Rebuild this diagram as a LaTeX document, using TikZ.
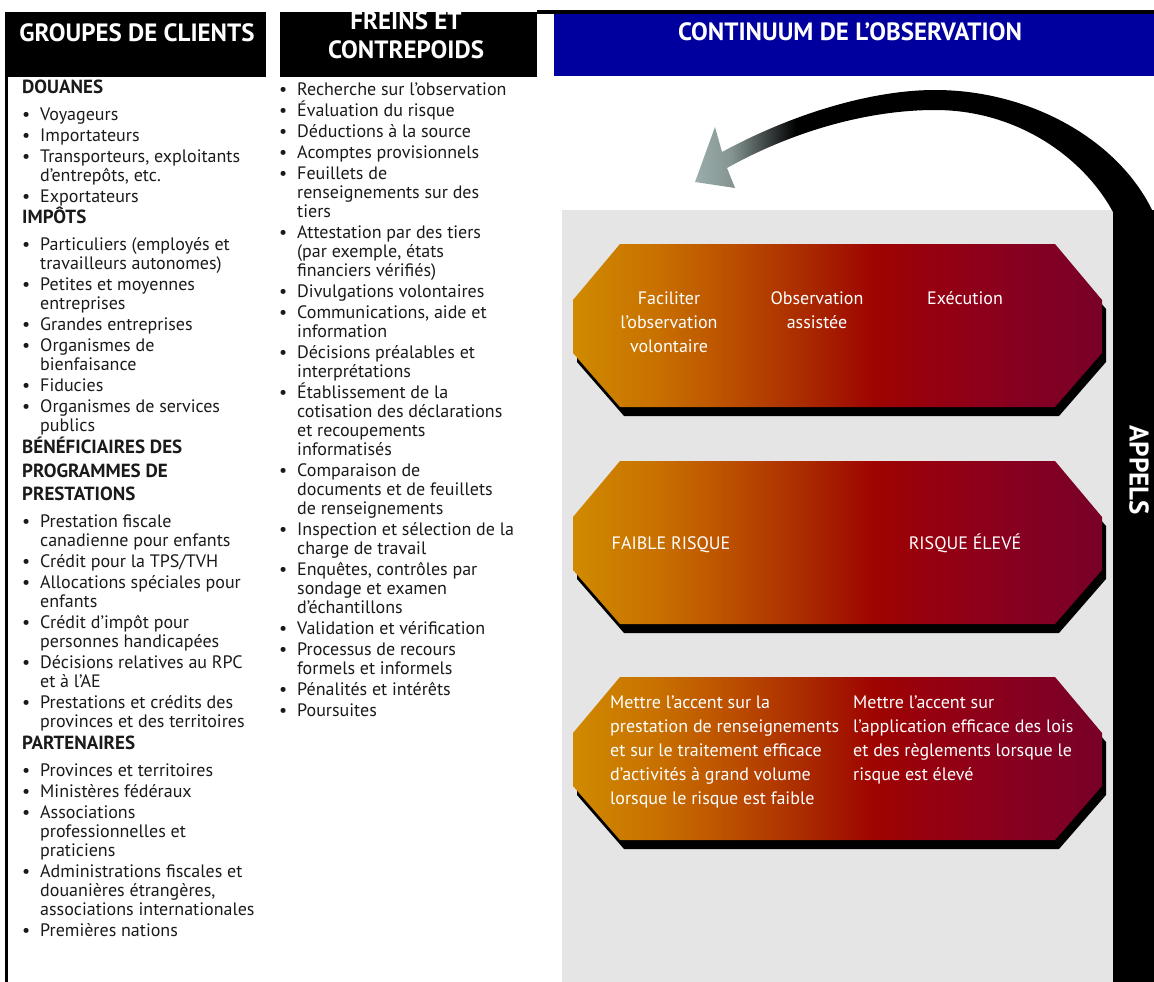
\documentclass[tikz,border=0pt]{standalone}
\usepackage{fontspec}
\setmainfont{PT Sans}
\usepackage{tikz}
\definecolor{blc}{HTML}{00009E}
\definecolor{pnc}{HTML}{E5E5E5}
\definecolor{agc}{HTML}{9BAEAB}
\definecolor{txc}{HTML}{1A1A1A}
\definecolor{og1}{HTML}{D08A00}
\definecolor{og2}{HTML}{C87000}
\definecolor{og3}{HTML}{BA4C00}
\definecolor{og4}{HTML}{A82400}
\definecolor{og5}{HTML}{9E0400}
\definecolor{og6}{HTML}{960010}
\definecolor{og7}{HTML}{880020}
\definecolor{og8}{HTML}{780028}
\pgfdeclarehorizontalshading{octfade}{100bp}{color(0bp)=(og1); color(25bp)=(og1);
  color(33bp)=(og2); color(40.5bp)=(og3); color(48bp)=(og4); color(53.5bp)=(og5);
  color(59bp)=(og6); color(66.5bp)=(og7); color(75bp)=(og8); color(100bp)=(og8)}
\pgfdeclarehorizontalshading{arrowfade}{100bp}{color(0bp)=(agc); color(25bp)=(agc);
  color(29bp)=(agc!85!black); color(36bp)=(black); color(100bp)=(black)}
\newcommand\puce[1]{\makebox[18pt][l]{\textbullet}#1}
\newcommand\suite[1]{\hspace*{18pt}#1}
\newcommand\titre[1]{{\fontsize{19}{19}\selectfont\bfseries #1}}
\newcommand\serre{\lineskiplimit=-20pt\relax}

\begin{document}
\begin{tikzpicture}[x=1pt, y=-1pt,
    headtxt/.style={text=white, font=\fontsize{25}{29}\selectfont\bfseries, align=center, inner sep=0},
    liste/.style={text=txc, font=\fontsize{18}{19}\selectfont\serre, align=left, inner sep=0, anchor=north west},
    octtxt/.style={text=white, font=\fontsize{18}{24}\selectfont, inner sep=0}]
  \useasboundingbox (0,0) rectangle (1154,982);

  \fill (5,12) rectangle (266,77);
  \fill (280,12) rectangle (537,77);
  \fill (537,10) rectangle (1154,14);
  \fill[blc] (554,14) rectangle (1154,76);
  \fill (5,12) rectangle (8,982);
  \node[headtxt] (groupes) at (137,33) {GROUPES DE CLIENTS};
  \node[headtxt] (freins) at (406,35) {FREINS ET\\CONTREPOIDS};
  \node[headtxt] (continuum) at (850,32) {CONTINUUM DE L’OBSERVATION};

  \node[liste] (clients) at (22,80) {%
    \titre{DOUANES}\\[8pt]
    \puce{Voyageurs}\\[2pt]
    \puce{Importateurs}\\[2pt]
    \puce{Transporteurs, exploitants}\\
    \suite{d’entrepôts, etc.}\\[2pt]
    \puce{Exportateurs}\\[2pt]
    \titre{IMPÔTS}\\[8pt]
    \puce{Particuliers (employés et}\\
    \suite{travailleurs autonomes)}\\[2pt]
    \puce{Petites et moyennes}\\
    \suite{entreprises}\\[2pt]
    \puce{Grandes entreprises}\\[2pt]
    \puce{Organismes de}\\
    \suite{bienfaisance}\\[2pt]
    \puce{Fiducies}\\[2pt]
    \puce{Organismes de services}\\
    \suite{publics}\\[3pt]
    \titre{BÉNÉFICIAIRES DES}\\[4.5pt]
    \titre{PROGRAMMES DE}\\[4.5pt]
    \titre{PRESTATIONS}\\[8pt]
    \puce{Prestation fiscale}\\
    \suite{canadienne pour enfants}\\[2pt]
    \puce{Crédit pour la TPS/TVH}\\[2pt]
    \puce{Allocations spéciales pour}\\
    \suite{enfants}\\[2pt]
    \puce{Crédit d’impôt pour}\\
    \suite{personnes handicapées}\\[2pt]
    \puce{Décisions relatives au RPC}\\
    \suite{et à l’AE}\\[2pt]
    \puce{Prestations et crédits des}\\
    \suite{provinces et des territoires}\\[3pt]
    \titre{PARTENAIRES}\\[8pt]
    \puce{Provinces et territoires}\\[2pt]
    \puce{Ministères fédéraux}\\[2pt]
    \puce{Associations}\\
    \suite{professionnelles et}\\
    \suite{praticiens}\\[2pt]
    \puce{Administrations fiscales et}\\
    \suite{douanières étrangères,}\\
    \suite{associations internationales}\\[2pt]
    \puce{Premières nations}};

  \node[liste] (mesures) at (279,83) {%
    \puce{Recherche sur l’observation}\\[2pt]
    \puce{Évaluation du risque}\\[2pt]
    \puce{Déductions à la source}\\[2pt]
    \puce{Acomptes provisionnels}\\[2pt]
    \puce{Feuillets de}\\
    \suite{renseignements sur des}\\
    \suite{tiers}\\[2pt]
    \puce{Attestation par des tiers}\\
    \suite{(par exemple, états}\\
    \suite{financiers vérifiés)}\\[2pt]
    \puce{Divulgations volontaires}\\[2pt]
    \puce{Communications, aide et}\\
    \suite{information}\\[2pt]
    \puce{Décisions préalables et}\\
    \suite{interprétations}\\[2pt]
    \puce{Établissement de la}\\
    \suite{cotisation des déclarations}\\
    \suite{et recoupements}\\
    \suite{informatisés}\\[2pt]
    \puce{Comparaison de}\\
    \suite{documents et de feuillets}\\
    \suite{de renseignements}\\[2pt]
    \puce{Inspection et sélection de la}\\
    \suite{charge de travail}\\[2pt]
    \puce{Enquêtes, contrôles par}\\
    \suite{sondage et examen}\\
    \suite{d’échantillons}\\[2pt]
    \puce{Validation et vérification}\\[2pt]
    \puce{Processus de recours}\\
    \suite{formels et informels}\\[2pt]
    \puce{Pénalités et intérêts}\\[2pt]
    \puce{Poursuites}};

  \fill[pnc] (562,210) rectangle (1113,982);
  \fill (1113,210) rectangle (1154,982);
  \shade[shading=arrowfade] (1154,214) .. controls (1120,140) and (1030,90) .. (935,90)
    .. controls (870,90) and (790,115) .. (722,152) -- (715,127) -- (695,182) -- (735,188)
    -- (727,168) .. controls (795,130) and (870,110) .. (935,110)
    .. controls (1020,110) and (1085,160) .. (1113,212) -- cycle;
  \node[headtxt, font=\fontsize{27}{29}\selectfont\bfseries, rotate=-90] (appels) at (1139,470) {APPELS};

  \foreach \t in {244,461,677}{
    \fill[shift={(4,9)}] (573,\t+56) -- (620,\t) -- (1055,\t) -- (1102,\t+56) -- (1102,\t+109)
      -- (1055,\t+163) -- (620,\t+163) -- (573,\t+109) -- cycle;
    \shade[shading=octfade] (573,\t+56) -- (620,\t) -- (1055,\t) -- (1102,\t+56) -- (1102,\t+109)
      -- (1055,\t+163) -- (620,\t+163) -- (573,\t+109) -- cycle;
  }

  \node[octtxt, align=center] (faciliter) at (669,322) {Faciliter\\l’observation\\volontaire};
  \node[octtxt, align=center] (assistee) at (817,310) {Observation\\assistée};
  \node[octtxt, anchor=base] (execution) at (965,304) {Exécution};
  \node[octtxt, anchor=base] (faible) at (671,549) {FAIBLE RISQUE};
  \node[octtxt, anchor=base] (eleve) at (965,549) {RISQUE ÉLEVÉ};
  \node[octtxt, align=left, anchor=west] (volume) at (610,752)
    {Mettre l’accent sur la\\prestation de renseignements\\et sur le traitement efficace\\d’activités à grand volume\\lorsque le risque est faible};
  \node[octtxt, align=left, anchor=west] (lois) at (853,740)
    {Mettre l’accent sur\\l’application efficace des lois\\et des règlements lorsque le\\risque est élevé};
\end{tikzpicture}
\end{document}
